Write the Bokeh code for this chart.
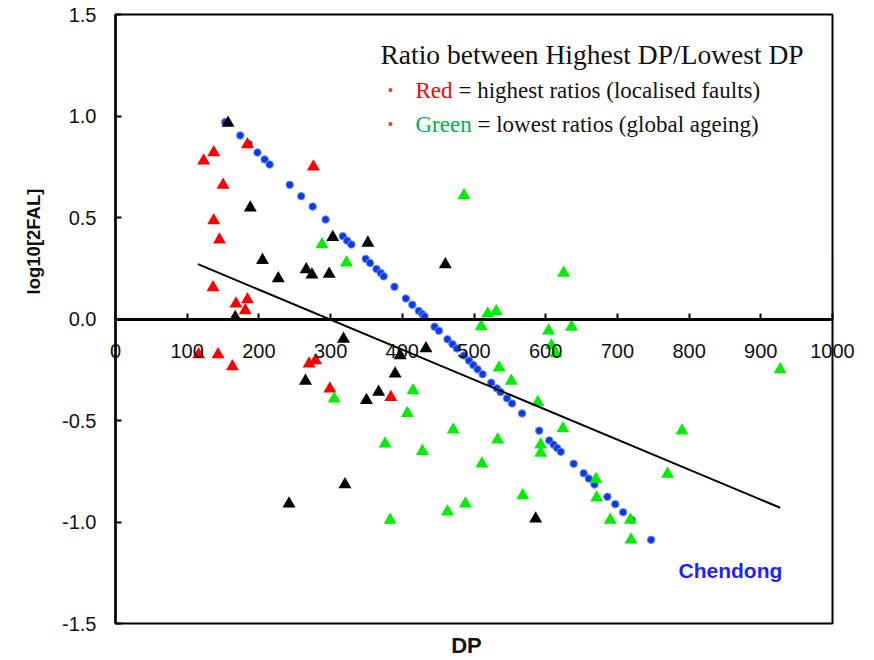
import math
from bokeh.plotting import figure
from bokeh.models import Label, FixedTicker, NumeralTickFormatter, Range1d, BoxAnnotation
from bokeh.embed import file_html
from bokeh.resources import INLINE

# ---------------- data ----------------
red_dp = [123, 137, 184, 276, 150, 137, 145, 136, 168, 184, 181, 116, 143, 163, 270, 279, 299, 384]
red_log = [0.78, 0.82, 0.86, 0.75, 0.66, 0.485, 0.39, 0.155, 0.075, 0.096, 0.042,
           -0.175, -0.175, -0.234, -0.22, -0.205, -0.344, -0.385]

black_dp = [157, 188, 205, 227, 266, 274, 298, 303, 167, 352, 460, 318, 433, 397, 390,
            265, 367, 350, 320, 242, 586]
black_log = [0.966, 0.548, 0.29, 0.20, 0.244, 0.218, 0.222, 0.403, 0.009, 0.375, 0.268,
             -0.098, -0.145, -0.18, -0.27, -0.306, -0.36, -0.40, -0.815, -0.91, -0.984]

green_dp = [288, 322, 486, 625, 519, 531, 510, 604, 636, 608, 614, 535, 552, 305, 415,
            407, 376, 428, 471, 533, 511, 488, 463, 383, 589, 624, 593, 593, 670, 671,
            568, 690, 718, 719, 790, 770, 927]
green_log = [0.367, 0.277, 0.608, 0.226, 0.026, 0.037, -0.037, -0.058, -0.04, -0.13, -0.17,
             -0.24, -0.305, -0.393, -0.352, -0.464, -0.615, -0.651, -0.546, -0.595, -0.713,
             -0.91, -0.95, -0.99, -0.41, -0.54, -0.62, -0.66, -0.79, -0.88, -0.87, -0.99,
             -0.99, -1.088, -0.55, -0.763, -0.249]

chendong_dp = [153, 174, 186, 198, 208, 215, 243, 259, 275, 293, 317, 323, 329, 349, 355,
               364, 370, 374, 389, 405, 414, 423, 428, 431, 445, 451, 463, 470, 476, 486,
               493, 499, 505, 512, 524, 532, 537, 546, 553, 567, 591, 605, 611, 616, 621,
               639, 653, 660, 668, 686, 697, 708, 720, 747]
chendong_log = [0.97, 0.904, 0.862, 0.82, 0.786, 0.761, 0.661, 0.605, 0.554, 0.49, 0.408,
                0.386, 0.367, 0.296, 0.276, 0.246, 0.226, 0.21, 0.159, 0.101, 0.07, 0.04,
                0.024, 0.013, -0.038, -0.058, -0.1, -0.124, -0.145, -0.18, -0.205, -0.227,
                -0.248, -0.272, -0.314, -0.342, -0.36, -0.391, -0.416, -0.465, -0.55, -0.598,
                -0.619, -0.636, -0.654, -0.713, -0.76, -0.786, -0.815, -0.876, -0.912, -0.952,
                -0.99, -1.088]

fit_dp = [115, 927]
fit_log = [0.27, -0.93]

x_ticks = [0, 100, 200, 300, 400, 500, 600, 700, 800, 900, 1000]
y_ticks = [-1.5, -1.0, -0.5, 0.0, 0.5, 1.0, 1.5]
x_lim = (0, 1000)
y_lim = (-1.5, 1.5)

title_text = "Ratio between Highest DP/Lowest DP"
red_word = "Red"
red_rest = "= highest ratios (localised faults)"
green_word = "Green"
green_rest = "= lowest ratios (global ageing)"
curve_name = "Chendong"
x_title = "DP"
y_title = "log10[2FAL]"

# ---------------- figure ----------------
# The frame covers the whole canvas so that the axes (placed at x=0 / y=0)
# and their labels are never clipped; the plot box is drawn as an annotation.
W, H = 874, 660
BOX_L, BOX_R, BOX_T, BOX_B = 115, 832, 14, 623
sx = (BOX_R - BOX_L) / (x_lim[1] - x_lim[0])
sy = (BOX_B - BOX_T) / (y_lim[1] - y_lim[0])
x_range = Range1d(x_lim[0] - BOX_L / sx, x_lim[1] + (W - BOX_R) / sx)
y_range = Range1d(y_lim[0] - (H - BOX_B) / sy, y_lim[1] + BOX_T / sy)


def px_x(px):
    return x_range.start + px / sx


def px_y(py):
    return y_range.end - py / sy


p = figure(width=W, height=H, output_backend="svg", toolbar_location=None,
           x_range=x_range, y_range=y_range, min_border=0)
p.background_fill_color = "white"
p.border_fill_color = "white"
p.outline_line_color = None
p.xgrid.visible = False
p.ygrid.visible = False

p.add_layout(BoxAnnotation(left=x_lim[0], right=x_lim[1], bottom=y_lim[0], top=y_lim[1],
                           fill_alpha=0, fill_color=None, line_color="black",
                           line_alpha=1.0, line_width=2))

TICK_FONT = "Liberation Sans"

xa = p.xaxis[0]
xa.fixed_location = 0
xa.bounds = x_lim
xa.ticker = FixedTicker(ticks=x_ticks)
xa.axis_line_width = 3
xa.axis_line_color = "black"
xa.major_tick_in = 6
xa.major_tick_out = 0
xa.major_tick_line_width = 2
xa.minor_tick_line_color = None
xa.major_label_standoff = 25
xa.major_label_text_font = TICK_FONT
xa.major_label_text_font_size = "20px"
xa.major_label_text_color = "#111111"

ya = p.yaxis[0]
ya.fixed_location = x_lim[0]
ya.bounds = y_lim
ya.ticker = FixedTicker(ticks=y_ticks)
ya.formatter = NumeralTickFormatter(format="0.0")
ya.axis_line_width = 2.5
ya.axis_line_color = "black"
ya.major_tick_in = 6
ya.major_tick_out = 0
ya.major_tick_line_width = 2
ya.minor_tick_line_color = None
ya.major_label_standoff = 19
ya.major_label_text_font = TICK_FONT
ya.major_label_text_font_size = "20px"
ya.major_label_text_color = "#111111"

# ---------------- marks ----------------
p.scatter(chendong_dp, chendong_log, marker="circle", size=7.5,
          fill_color="#0A3AEE", line_color="#7090E0", line_width=1)
p.scatter(red_dp, red_log, marker="triangle", size=13, fill_color="#FF0000", line_color=None)
p.scatter(black_dp, black_log, marker="triangle", size=13, fill_color="#000000", line_color=None)
p.scatter(green_dp, green_log, marker="triangle", size=13, fill_color="#00EE00", line_color=None)
p.line(fit_dp, fit_log, line_color="black", line_width=2)

# ---------------- texts ----------------
SERIF = "Liberation Serif"


def add_text(px, py, text, font, size, color, align="left", style="normal", angle=0.0):
    p.add_layout(Label(x=px_x(px), y=px_y(py), text=text, text_font=font,
                       text_font_size=size, text_color=color, text_align=align,
                       text_baseline="middle", text_font_style=style, angle=angle))


add_text(380, 54, title_text, SERIF, "27.5px", "#111111")
add_text(390, 90, "\u2022", SERIF, "17px", "#C0504D", align="center")
add_text(415, 90, red_word, SERIF, "23px", "#FF0000")
add_text(458, 90, red_rest, SERIF, "23px", "#111111")
add_text(390, 124, "\u2022", SERIF, "17px", "#C0504D", align="center")
add_text(415, 124, green_word, SERIF, "23px", "#00B050")
add_text(477, 124, green_rest, SERIF, "23px", "#111111")
add_text(678, 570, curve_name, "Liberation Sans", "21px", "#2222FF", style="bold")
add_text(466, 645, x_title, "Liberation Sans", "22px", "#111111", align="center", style="bold")
add_text(33, 241, y_title, "Liberation Sans", "18.5px", "#111111", align="center", style="bold",
         angle=math.pi / 2)

open("out.html", "w").write(file_html(p, INLINE))
